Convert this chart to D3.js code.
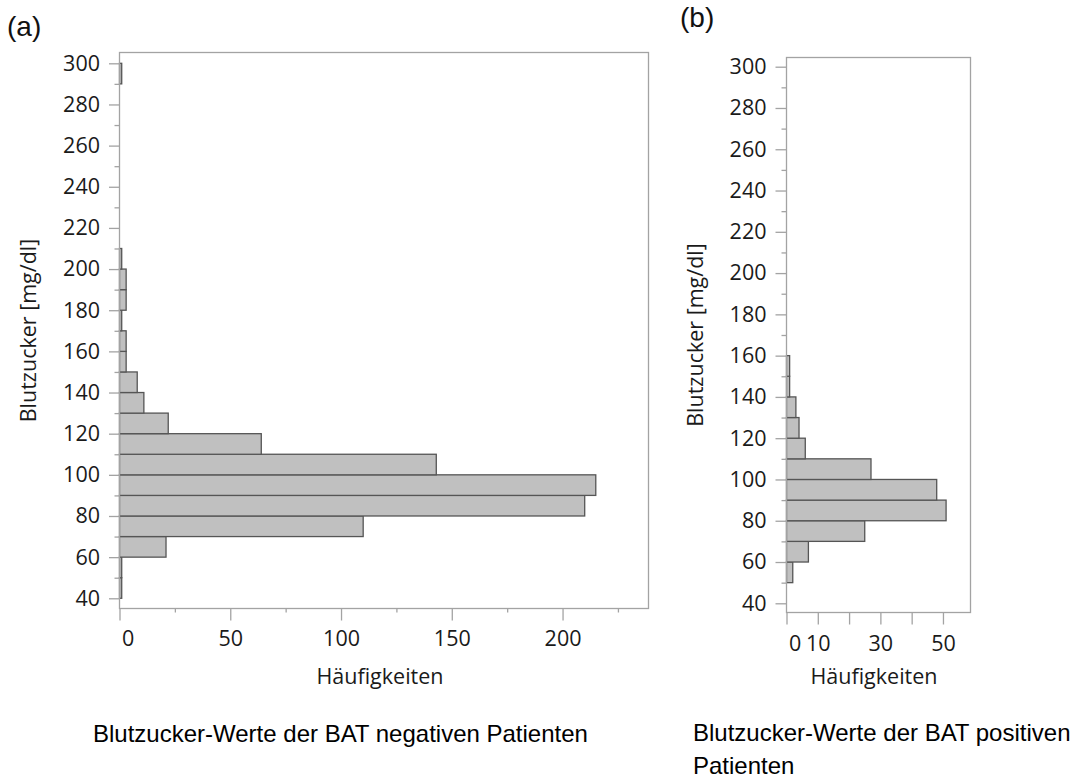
<!DOCTYPE html>
<html><head><meta charset="utf-8">
<script src="https://cdn.jsdelivr.net/npm/d3@7"></script>
<style>
body{margin:0;background:#fff;}
svg text{font-family:"Open Sans","Noto Sans",sans-serif;}
</style></head><body>
<svg id="c" width="1076" height="783"></svg>
<script>
// ---------- data ----------
const binStarts = [40,50,60,70,80,90,100,110,120,130,140,150,160,170,180,190,200,210,220,230,240,250,260,270,280,290];
const binWidth = 10;
// (a) BAT negative
const negCounts = [1,1,21,110,210,215,143,64,22,11,8,3,3,1,3,3,1,0,0,0,0,0,0,0,0,1];
// (b) BAT positive
const posCounts = [0,2,7,25,51,48,27,6,4,3,1,1,0,0,0,0,0,0,0,0,0,0,0,0,0,0];

const yMajorTicks = [40,60,80,100,120,140,160,180,200,220,240,260,280,300];
const yMinorTicks = [50,70,90,110,130,150,170,190,210,230,250,270,290];
const negXMajor = [0,50,100,150,200];
const negXMinor = [25,75,125,175,225];
const posXMajor = [0,10,20,30,40,50];
const posXLabelled = [0,10,30,50];

const panelLetters = ["(a)","(b)"];
const yTitle = "Blutzucker [mg/dl]";
const xTitle = "Häufigkeiten";
const captionA = ["Blutzucker-Werte der BAT negativen Patienten"];
const captionB = ["Blutzucker-Werte der BAT positiven","Patienten"];

// ---------- drawing ----------
const svg = d3.select("#c");
const TXT = "#1a1a1a", AX = "#a3a3a3";

function panel(o){
  const g = svg.append("g");
  const x = d3.scaleLinear().domain(o.xDom).range([o.left,o.right]);
  const y = d3.scaleLinear().domain(o.yDom).range([o.bottom,o.top]);
  const data = binStarts.map((b,i)=>({b, c:o.counts[i]})).filter(d=>d.c>0);

  // bars
  g.append("g").selectAll("rect").data(data).join("rect")
    .attr("x", x(0))
    .attr("y", d=>y(d.b+binWidth))
    .attr("width", d=>x(d.c)-x(0))
    .attr("height", d=>y(d.b)-y(d.b+binWidth))
    .attr("fill","#c0c0c0").attr("stroke","#555").attr("stroke-width",1.3);

  // frame
  g.append("rect").attr("x",o.left).attr("y",o.top)
    .attr("width",o.right-o.left).attr("height",o.bottom-o.top)
    .attr("fill","none").attr("stroke",AX).attr("stroke-width",1.3);

  // y axis
  const ya = g.append("g").attr("transform",`translate(${o.left},0)`)
    .call(d3.axisLeft(y).tickValues(yMajorTicks).tickSize(o.yTick).tickPadding(9).tickFormat(d3.format("d")));
  const yb = g.append("g").attr("transform",`translate(${o.left},0)`)
    .call(d3.axisLeft(y).tickValues(yMinorTicks).tickSize(5).tickFormat(""));
  // x axis
  const xa = g.append("g").attr("transform",`translate(0,${o.bottom})`)
    .call(d3.axisBottom(x).tickValues(o.xMajor).tickSize(12).tickPadding(o.xPad)
      .tickFormat(d=> o.xLabelled.includes(d) ? d3.format("d")(d) : ""));
  const xb = g.append("g").attr("transform",`translate(0,${o.bottom})`)
    .call(d3.axisBottom(x).tickValues(o.xMinor).tickSize(4).tickFormat(""));
  [ya,yb,xa,xb].forEach(a=>{
    a.select(".domain").remove();
    a.selectAll("line").attr("stroke",AX).attr("stroke-width",1.3);
    a.selectAll("text").attr("fill",TXT).style("font-size","21.5px");
  });
  xa.selectAll(".tick text").filter(d=>d===0).attr("text-anchor","start").attr("x",2);

  // titles
  g.append("text").attr("x",o.xTitleX).attr("y",o.xTitleY)
    .attr("text-anchor","middle").attr("fill",TXT).style("font-size","21.5px").text(xTitle);
  g.append("text").attr("transform",`translate(${o.yTitleX},${(o.top+o.bottom)/2}) rotate(-90)`)
    .attr("text-anchor","middle").attr("fill",TXT).style("font-size","21.5px").text(yTitle);

  // panel letter
  g.append("text").attr("x",o.letterX).attr("y",o.letterY)
    .style("font-family","'Liberation Sans',Arial,sans-serif").style("font-size","28px")
    .attr("fill","#111").text(o.letter);

  // caption
  g.append("g").selectAll("text").data(o.caption).join("text")
    .attr("x",o.capX).attr("y",(d,i)=>o.capY+i*33)
    .style("font-family","'Liberation Sans',Arial,sans-serif").style("font-size","24px")
    .attr("fill","#000").text(d=>d);
}

panel({counts:negCounts, left:119.5, right:648.5, top:52.5, bottom:608.5,
  xDom:[0,238.8], yDom:[35.04,305.25], xMajor:negXMajor, xMinor:negXMinor, xLabelled:negXMajor,
  yTick:10.5, xPad:10, xTitleX:380, xTitleY:684, yTitleX:36,
  letter:panelLetters[0], letterX:7, letterY:36, caption:captionA, capX:93, capY:742});

panel({counts:posCounts, left:786.5, right:970.5, top:57.5, bottom:612.5,
  xDom:[0,58.8], yDom:[35.54,304.46], xMajor:posXMajor, xMinor:[], xLabelled:posXLabelled,
  yTick:11, xPad:11, xTitleX:874, xTitleY:684, yTitleX:703,
  letter:panelLetters[1], letterX:680, letterY:27, caption:captionB, capX:693, capY:741});
</script>
</body></html>
